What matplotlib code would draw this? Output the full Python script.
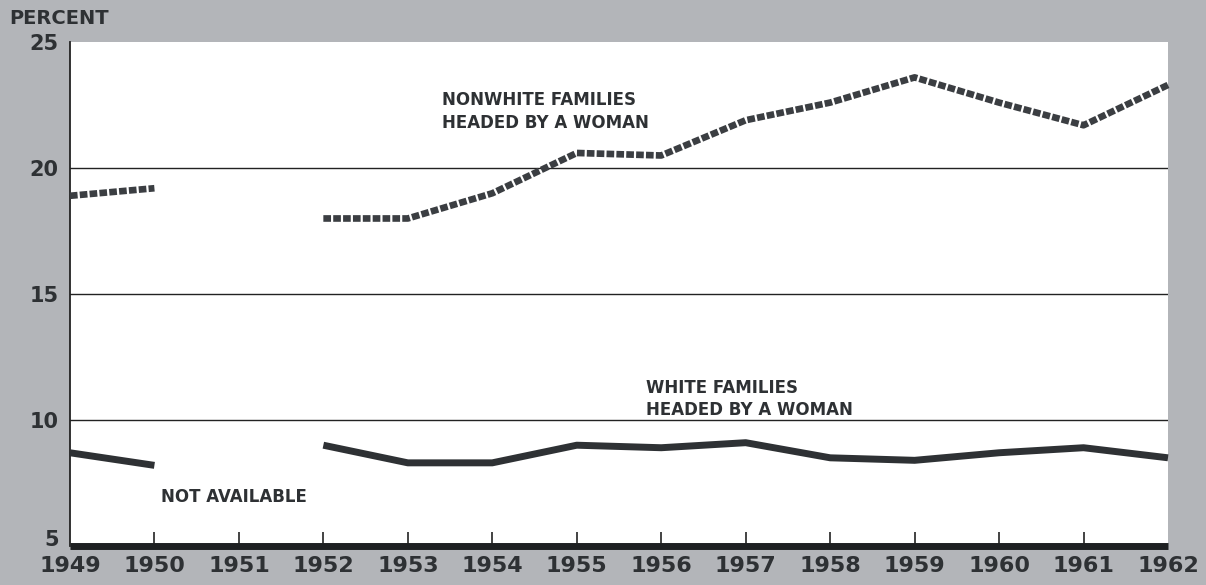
import matplotlib
matplotlib.use("Agg")
import matplotlib.pyplot as plt
import matplotlib.transforms as mtransforms
import numpy as np

years = [1949, 1950, 1951, 1952, 1953, 1954, 1955, 1956, 1957, 1958, 1959, 1960, 1961, 1962]
nonwhite = [18.9, 19.2, None, 18.0, 18.0, 19.0, 20.6, 20.5, 21.9, 22.6, 23.6, 22.6, 21.7, 23.3]
white = [8.7, 8.2, None, 9.0, 8.3, 8.3, 9.0, 8.9, 9.1, 8.5, 8.4, 8.7, 8.9, 8.5]
yticks = [5, 10, 15, 20, 25]

bg = "#b3b5b9"
ink = "#2e3134"
font = "DejaVu Sans"

fig = plt.figure(figsize=(12.06, 5.85), dpi=100, facecolor=bg)
ax = fig.add_axes([0.058, 0.0667, 0.9105, 0.8613])
ax.set_facecolor("white")

nw = np.array([np.nan if v is None else v for v in nonwhite], dtype=float)
wh = np.array([np.nan if v is None else v for v in white], dtype=float)

for y in [10, 15, 20]:
    ax.axhline(y, color="#222222", lw=1.0, zorder=1)

ax.plot(years, nw, color="#3b3e42", lw=4.8, dashes=(1.15, 0.33),
        dash_capstyle="butt", solid_joinstyle="miter", zorder=3, clip_on=False)
ax.plot(years, wh, color=ink, lw=5.0, solid_capstyle="butt", zorder=3, clip_on=False)

ax.set_xlim(1949, 1962)
ax.set_ylim(5, 25)

for s in ["top", "right"]:
    ax.spines[s].set_visible(False)
ax.spines["left"].set_linewidth(1.3)
ax.spines["left"].set_color("#222222")
ax.spines["bottom"].set_linewidth(5)
ax.spines["bottom"].set_color("#1e2022")
ax.spines["bottom"].set_capstyle("butt")

inner = years[1:-1]
ends = [years[0], years[-1]]
lab_kw = dict(fontsize=16, fontweight="bold", family=font, color=ink)
ax.set_xticks(inner)
ax.set_xticklabels([str(y) for y in inner], **lab_kw)
ax.set_xticks(ends, minor=True)
ax.set_xticklabels([str(y) for y in ends], minor=True, **lab_kw)
ax.tick_params(axis="x", which="major", direction="in", length=10, width=1.2,
               color="#222222", pad=7)
ax.tick_params(axis="x", which="minor", direction="in", length=0, pad=7)
ax.set_yticks(yticks)
ax.set_yticklabels([str(y) for y in yticks], fontsize=15, fontweight="bold",
                   family=font, color=ink)
ax.tick_params(axis="y", length=0, pad=8)

# lift the bottom "5" label slightly, as in the original, so it clears "1949"
lab5 = ax.get_yticklabels()[0]
lab5.set_transform(lab5.get_transform() +
                   mtransforms.ScaledTranslation(0, 6 / 72, fig.dpi_scale_trans))

fig.text(0.008, 0.968, "PERCENT", fontsize=14, fontweight="bold", family=font,
         color=ink, ha="left", va="center")

tkw = dict(fontsize=12, fontweight="bold", family=font, color=ink, ha="left",
           va="center", linespacing=1.3)
ax.text(1953.40, 22.25, "NONWHITE FAMILIES\nHEADED BY A WOMAN", **tkw)
ax.text(1955.82, 10.84, "WHITE FAMILIES\nHEADED BY A WOMAN", **tkw)
ax.text(1950.08, 6.95, "NOT AVAILABLE", **tkw)

fig.savefig("out.png", dpi=100, facecolor=bg)
